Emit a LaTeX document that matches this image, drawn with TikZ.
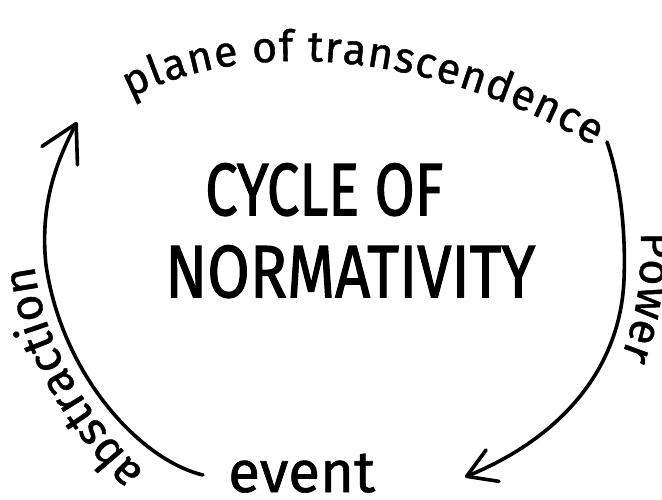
\documentclass[tikz,border=0pt]{standalone}
\usepackage{fontspec}
\usepackage{graphicx}
\newfontfamily\hand[FakeBold=1]{Fira Sans}
\newfontfamily\handtitle[FakeBold=1.6]{Fira Sans}
\usetikzlibrary{decorations.text,arrows.meta}
\begin{document}
\begin{tikzpicture}[x=1pt,y=-1pt,
  arcline/.style={line width=3.6pt,line cap=round,line join=round},
  lbl/.style={inner sep=0pt,font=\handtitle},
  curvetext/.style={decorate,decoration={text along path,text align={fit to path},text={#1}}}]
\useasboundingbox (0,0) rectangle (662,500);
\fill[white] (0,0) rectangle (662,500);
% centre title
\node[lbl,anchor=north west] (t1) at (205,163) {\resizebox{238pt}{52pt}{CYCLE OF}};
\node[lbl,anchor=north west] (t2) at (165,245) {\resizebox{370pt}{52pt}{NORMATIVITY}};
\node[lbl,anchor=base west,font=\hand] (ev) at (228,492) {\resizebox{147pt}{!}{event}};
% coordinates
\coordinate (lstart) at (203,475);
\coordinate (ltip) at (77,122);
\coordinate (rstart) at (607,142);
\coordinate (rtip) at (465,477);
% arcs
\draw[arcline,-{Straight Barb[round,length=36pt,width=40pt]}]
  (lstart) .. controls (140,460) and (62,375) .. (46,265)
  .. controls (39,200) and (60,155) .. (ltip);
\draw[arcline,-{Straight Barb[round,length=28pt,width=34pt]}]
  (rstart) .. controls (620,180) and (626,230) .. (624,280)
  .. controls (620,370) and (560,438) .. (rtip);
% curved labels
\path[curvetext={|\hand\fontsize{43}{43}\selectfont|plane of transcendence}]
  (130,98) .. controls (250,36) and (430,52) .. (594,146);
\path[curvetext={|\hand\fontsize{46}{46}\selectfont|abstraction}]
  (144,472) .. controls (92,422) and (48,352) .. (36,278);
\path[curvetext={|\hand\fontsize{45}{45}\selectfont|Power}]
  (641,232) .. controls (642,280) and (636,320) .. (621,357);
\end{tikzpicture}
\end{document}
